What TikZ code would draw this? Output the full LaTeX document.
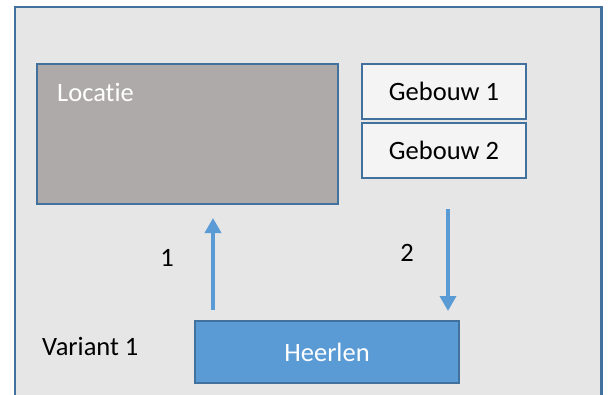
\documentclass[tikz,border=0pt]{standalone}
\usepackage{fontspec}
\setmainfont{Carlito}[Ligatures={NoCommon}]
\usetikzlibrary{arrows.meta}
\definecolor{bgray}{HTML}{E7E6E6}
\definecolor{bline}{HTML}{41719C}
\definecolor{locfill}{HTML}{AEAAAA}
\definecolor{gebfill}{HTML}{F4F4F4}
\definecolor{heerfill}{HTML}{5B9BD5}
\tikzset{
  box/.style={draw=bline, line width=2.2pt, rectangle, inner sep=0pt, font=\fontsize{26.5}{31}\selectfont},
  txt/.style={inner sep=0pt, font=\fontsize{26.5}{31}\selectfont},
  arr/.style={draw=heerfill, line width=3.5pt, -{Triangle[width=16pt,length=15pt]}},
}
\begin{document}
\begin{tikzpicture}[x=1pt,y=-1pt]
\useasboundingbox (0,0) rectangle (608,394);
\clip (0,0) rectangle (608,394);
\fill[white] (0,0) rectangle (608,394);
\draw[bline, fill=bgray, line width=2.2pt] (15,7) rectangle (601.5,420);
\node[box, fill=locfill, minimum width=301pt, minimum height=140pt] (loc) at (187.5,134) {};
\node[txt, text=white, anchor=west] (loctext) at (57,92) {Locatie};
\node[box, fill=gebfill, minimum width=164pt, minimum height=55pt] (geb1) at (444,91.5) {Gebouw 1};
\node[box, fill=gebfill, minimum width=164pt, minimum height=55pt] (geb2) at (444,150.5) {Gebouw 2};
\node[box, fill=heerfill, text=white, minimum width=264pt, minimum height=62pt] (heer) at (327,352) {Heerlen};
\coordinate (a1s) at (213,310);
\coordinate (a1e) at (213,218);
\coordinate (a2s) at (448,209);
\coordinate (a2e) at (448,311);
\draw[arr] (a1s) -- (a1e);
\draw[arr] (a2s) -- (a2e);
\node[txt] (l1) at (167,258) {1};
\node[txt] (l2) at (407,253) {2};
\node[txt, anchor=west] (var) at (42,346) {Variant 1};
\end{tikzpicture}
\end{document}
